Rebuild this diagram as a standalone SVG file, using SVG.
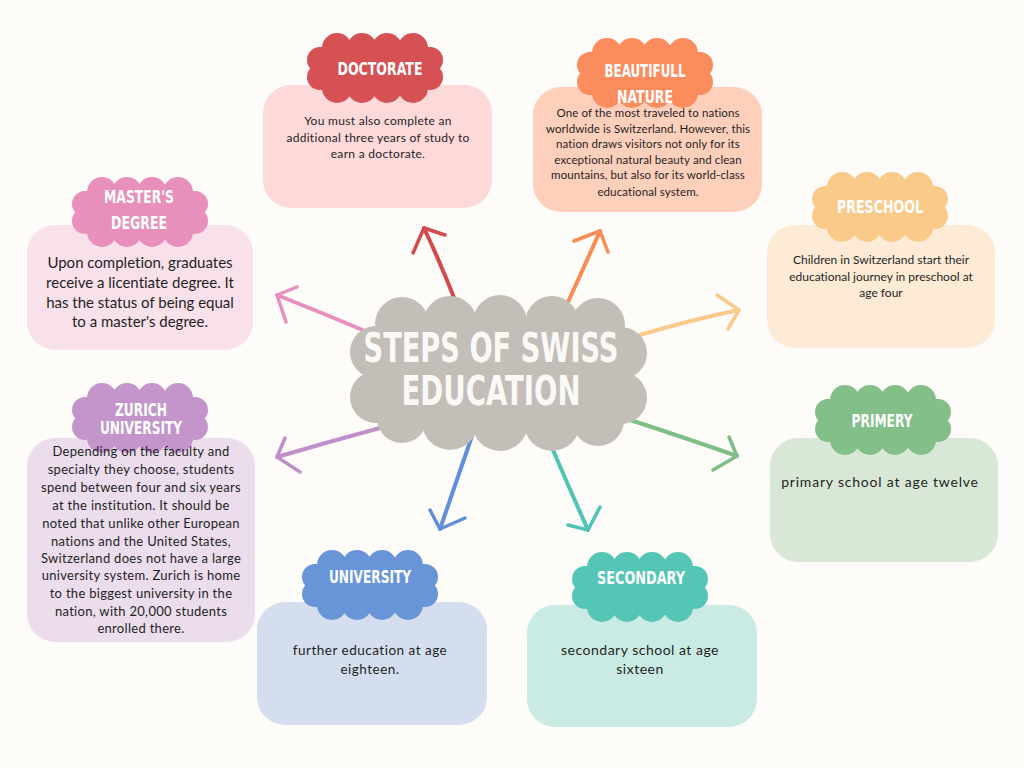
<svg xmlns="http://www.w3.org/2000/svg" xmlns:xlink="http://www.w3.org/1999/xlink" width="1024" height="768" viewBox="0 0 1024 768">
<style>
.bg{fill:#FEFCF8}
.box{rx:28;ry:28}
.badge-t{font-family:"DejaVu Sans Condensed","DejaVu Sans",sans-serif;font-weight:bold;font-size:17px;fill:#FFFFFF;text-anchor:middle}
.title{font-family:"DejaVu Sans Condensed","DejaVu Sans",sans-serif;font-weight:bold;font-size:40px;fill:#FBF9F6;text-anchor:middle}
.body{font-family:Lato,"Liberation Sans",sans-serif;fill:#1F1F1F;text-anchor:middle;font-variant-ligatures:none}
.ln{fill:none;stroke-width:4;stroke-linecap:round;stroke-linejoin:round}
.hd{fill:none;stroke-width:3.5;stroke-linecap:round;stroke-linejoin:round}
</style>
<defs>
<g id="badge">
<rect x="12" y="14" width="112" height="42"/>
<circle cx="30" cy="15" r="15"/><circle cx="55" cy="15" r="15"/><circle cx="80" cy="15" r="15"/><circle cx="106" cy="15" r="15"/>
<circle cx="30" cy="55" r="15"/><circle cx="55" cy="55" r="15"/><circle cx="80" cy="55" r="15"/><circle cx="106" cy="55" r="15"/>
<circle cx="13" cy="27" r="13"/><circle cx="13" cy="44" r="13"/><circle cx="123" cy="27" r="13"/><circle cx="123" cy="44" r="13"/>
</g>
</defs>
<rect class="bg" x="0" y="0" width="1024" height="768"/>

<g id="connectors">
<g stroke="#D24A4A"><path class="ln" d="M455,300 Q440,262 424,228"/><polyline class="hd" points="413,253 424,228 445,235"/></g>
<g stroke="#F98B55"><path class="ln" d="M568,302 Q585,265 600,231"/><polyline class="hd" points="574,241 600,231 608,252"/></g>
<g stroke="#E88FBC"><path class="ln" d="M365,331 Q320,312 277,295"/><polyline class="hd" points="297,287 277,295 286,322"/></g>
<g stroke="#C08FCB"><path class="ln" d="M380,428 Q328,442 277,457"/><polyline class="hd" points="285,438 277,457 300,472"/></g>
<g stroke="#5F8FDC"><path class="ln" d="M472,436 Q455,485 440,529"/><polyline class="hd" points="430,510 440,529 465,518"/></g>
<g stroke="#4FC4B6"><path class="ln" d="M553,450 Q571,492 588,530"/><polyline class="hd" points="568,525 588,530 600,507"/></g>
<g stroke="#F9CA8A"><path class="ln" d="M640,335 Q690,320 739,310"/><polyline class="hd" points="717,295 739,310 728,329"/></g>
<g stroke="#7DBE85"><path class="ln" d="M618,416 Q680,436 737,456"/><polyline class="hd" points="729,437 737,456 713,470"/></g>
</g>

<g id="center" fill="#C4BEB9">
<rect x="376" y="325" width="245" height="97"/>
<circle cx="402" cy="324" r="27"/><circle cx="450" cy="323" r="27"/><circle cx="500" cy="322" r="27"/><circle cx="552" cy="323" r="27"/><circle cx="598" cy="325" r="27"/>
<circle cx="402" cy="418" r="25"/><circle cx="450" cy="422" r="28"/><circle cx="500" cy="423" r="28"/><circle cx="552" cy="423" r="28"/><circle cx="598" cy="420" r="26"/>
<circle cx="376" cy="352" r="26"/><circle cx="376" cy="397" r="26"/><circle cx="621" cy="353" r="26"/><circle cx="621" cy="398" r="26"/>
<text class="title" x="491" y="362" textLength="255" lengthAdjust="spacingAndGlyphs">STEPS OF SWISS</text>
<text class="title" x="491" y="405" textLength="179" lengthAdjust="spacingAndGlyphs">EDUCATION</text>
</g>

<g id="doctorate">
<rect class="box" x="263" y="85" width="229" height="123" fill="#FDD9D9"/>
<use href="#badge" x="307" y="33" fill="#D55153"/>
<text class="badge-t" x="380" y="75" textLength="85" lengthAdjust="spacingAndGlyphs">DOCTORATE</text>
<text class="body" font-size="12" letter-spacing="0.3"><tspan x="378" y="125">You must also complete an</tspan><tspan x="378" y="142">additional three years of study to</tspan><tspan x="378" y="158">earn a doctorate.</tspan></text>
</g>

<g id="nature">
<rect class="box" x="533" y="87" width="229" height="125" fill="#FECFBB"/>
<use href="#badge" x="577" y="38" fill="#FB8C5E"/>
<text class="badge-t" x="645" y="77" textLength="81" lengthAdjust="spacingAndGlyphs">BEAUTIFULL</text>
<text class="badge-t" x="645" y="103" textLength="56" lengthAdjust="spacingAndGlyphs">NATURE</text>
<text class="body" font-size="11.5" letter-spacing="0.1"><tspan x="648" y="117">One of the most traveled to nations</tspan><tspan x="648" y="133">worldwide is Switzerland. However, this</tspan><tspan x="648" y="148">nation draws visitors not only for its</tspan><tspan x="648" y="164">exceptional natural beauty and clean</tspan><tspan x="648" y="179">mountains, but also for its world-class</tspan><tspan x="648" y="196">educational system.</tspan></text>
</g>

<g id="masters">
<rect class="box" x="27" y="225" width="226" height="125" fill="#F9E1EB"/>
<use href="#badge" x="72" y="177" fill="#E88FBC"/>
<text class="badge-t" x="139" y="203" textLength="70" lengthAdjust="spacingAndGlyphs">MASTER'S</text>
<text class="badge-t" x="139" y="229" textLength="56" lengthAdjust="spacingAndGlyphs">DEGREE</text>
<text class="body" font-size="15"><tspan x="140" y="268">Upon completion, graduates</tspan><tspan x="140" y="288">receive a licentiate degree. It</tspan><tspan x="140" y="308">has the status of being equal</tspan><tspan x="140" y="327">to a master's degree.</tspan></text>
</g>

<g id="zurich">
<rect class="box" x="27" y="438" width="228" height="204" fill="#EBDDEB"/>
<use href="#badge" x="72" y="383" fill="#C495CB"/>
<text class="badge-t" x="141" y="416" textLength="52" lengthAdjust="spacingAndGlyphs">ZURICH</text>
<text class="badge-t" x="141" y="434" textLength="82" lengthAdjust="spacingAndGlyphs">UNIVERSITY</text>
<text class="body" font-size="13" letter-spacing="0.3"><tspan x="141" y="456">Depending on the faculty and</tspan><tspan x="141" y="474">specialty they choose, students</tspan><tspan x="141" y="492">spend between four and six years</tspan><tspan x="141" y="510">at the institution. It should be</tspan><tspan x="141" y="528">noted that unlike other European</tspan><tspan x="141" y="546">nations and the United States,</tspan><tspan x="141" y="563">Switzerland does not have a large</tspan><tspan x="141" y="580">university system. Zurich is home</tspan><tspan x="141" y="598">to the biggest university in the</tspan><tspan x="141" y="616">nation, with 20,000 students</tspan><tspan x="141" y="633">enrolled there.</tspan></text>
</g>

<g id="preschool">
<rect class="box" x="767" y="225" width="228" height="123" fill="#FDEBD5"/>
<use href="#badge" x="812" y="172" fill="#F9CA8A"/>
<text class="badge-t" x="880" y="213" textLength="86" lengthAdjust="spacingAndGlyphs">PRESCHOOL</text>
<text class="body" font-size="12"><tspan x="881" y="264">Children in Switzerland start their</tspan><tspan x="881" y="281">educational journey in preschool at</tspan><tspan x="881" y="297">age four</tspan></text>
</g>

<g id="primery">
<rect class="box" x="770" y="438" width="228" height="124" fill="#D9E8D6"/>
<use href="#badge" x="815" y="385" fill="#83BF88"/>
<text class="badge-t" x="882" y="427" textLength="61" lengthAdjust="spacingAndGlyphs">PRIMERY</text>
<text class="body" font-size="14" letter-spacing="0.8"><tspan x="880" y="487">primary school at age twelve</tspan></text>
</g>

<g id="university">
<rect class="box" x="257" y="602" width="230" height="123" fill="#D4DEEE"/>
<use href="#badge" x="302" y="550" fill="#6895D8"/>
<text class="badge-t" x="370" y="583" textLength="82" lengthAdjust="spacingAndGlyphs">UNIVERSITY</text>
<text class="body" font-size="13.5" letter-spacing="0.5"><tspan x="370" y="655">further education at age</tspan><tspan x="370" y="674">eighteen.</tspan></text>
</g>

<g id="secondary">
<rect class="box" x="527" y="605" width="230" height="122" fill="#CAEBE3"/>
<use href="#badge" x="572" y="552" fill="#55C6B6"/>
<text class="badge-t" x="641" y="584" textLength="88" lengthAdjust="spacingAndGlyphs">SECONDARY</text>
<text class="body" font-size="14" letter-spacing="0.5"><tspan x="640" y="655">secondary school at age</tspan><tspan x="640" y="674">sixteen</tspan></text>
</g>
</svg>
